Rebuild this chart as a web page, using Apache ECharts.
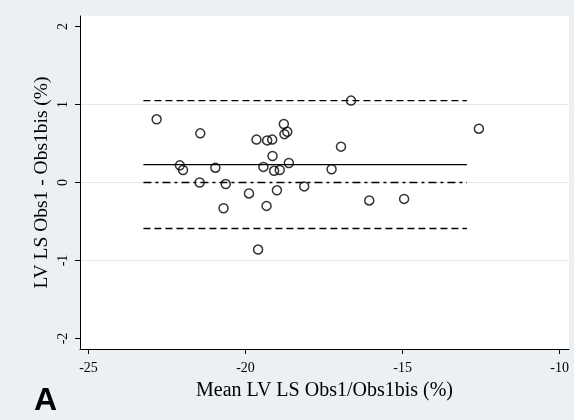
<!DOCTYPE html>
<html>
<head>
<meta charset="utf-8">
<script src="https://cdn.jsdelivr.net/npm/echarts@6/dist/echarts.min.js"></script>
<style>
html,body{margin:0;padding:0;background:#eaf0f3;}
#c{width:574px;height:420px;}
</style>
</head>
<body>
<div id="c"></div>
<script>
// Bland-Altman data: mean of Obs1/Obs1bis (x) and difference (y)
const meanValues = [-22.83,-22.09,-21.99,-21.44,-21.46,-20.96,-20.70,-20.63,-19.89,-19.65,
  -19.60,-19.43,-19.33,-19.31,-19.15,-19.14,-19.09,-19.00,-18.91,-18.78,
  -18.76,-18.67,-18.62,-18.13,-17.26,-16.96,-16.64,-16.06,-14.95,-12.57];
const diffValues = [0.81,0.22,0.16,0.63,0.00,0.19,-0.33,-0.02,-0.14,0.55,
  -0.86,0.20,-0.30,0.54,0.55,0.34,0.15,-0.10,0.16,0.75,
  0.62,0.65,0.25,-0.05,0.17,0.46,1.05,-0.23,-0.21,0.69];
const upperLimit = 1.05;
const meanDiff = 0.23;
const lowerLimit = -0.59;
const zeroLine = 0;
const limitXRange = [-23.25, -12.95];
const xTicks = [-25, -20, -15, -10];
const yTicks = [-2, -1, 0, 1, 2];
const yGrid = [-1, 0, 1];
const xTitle = 'Mean LV LS Obs1/Obs1bis (%)';
const yTitle = 'LV LS Obs1 - Obs1bis (%)';
const panelLabel = 'A';

const points = meanValues.map((x, i) => [x, diffValues[i]]);
const hline = v => [[limitXRange[0], v], [limitXRange[1], v]];

const chart = echarts.init(document.getElementById('c'));
const serif = 'Liberation Serif';
chart.setOption({
  backgroundColor: '#eaf0f3',
  animation: false,
  graphic: [{
    type: 'text', left: 34, top: 385,
    style: {text: panelLabel, font: 'bold 32px "Liberation Sans"', fill: '#000'}
  }],
  grid: {left: 80, right: 5, top: 16, bottom: 71, show: true, backgroundColor: '#fff', borderWidth: 0},
  xAxis: {
    type: 'value', min: -25.27, max: -9.70,
    axisLine: {show: true, onZero: false, lineStyle: {color: '#000', width: 1}},
    axisTick: {show: true, length: 5, customValues: xTicks, lineStyle: {color: '#000'}},
    axisLabel: {customValues: xTicks, color: '#000', fontFamily: serif, fontSize: 14, margin: 12},
    splitLine: {show: false},
    name: xTitle, nameLocation: 'middle', nameGap: 32, nameMoveOverlap: false,
    nameTextStyle: {color: '#000', fontFamily: serif, fontSize: 20}
  },
  yAxis: {
    type: 'value', min: -2.135, max: 2.135,
    axisLine: {show: true, onZero: false, lineStyle: {color: '#000', width: 1}},
    axisTick: {show: true, length: 5, customValues: yTicks, lineStyle: {color: '#000'}},
    axisLabel: {customValues: yTicks, rotate: 90, color: '#000', fontFamily: serif, fontSize: 14, margin: 10},
    splitLine: {show: false},
    name: yTitle, nameLocation: 'middle', nameGap: 28, nameRotate: 90, nameMoveOverlap: false,
    nameTextStyle: {color: '#000', fontFamily: serif, fontSize: 19.5}
  },
  series: [
    {
      type: 'line', data: [], silent: true, z: 0, zlevel: 0,
      markLine: {
        silent: true, symbol: 'none', label: {show: false}, z: 0,
        lineStyle: {color: '#e4e8ea', width: 1, type: 'solid'},
        data: yGrid.map(v => ({yAxis: v}))
      }
    },
    {type: 'line', data: hline(upperLimit), symbol: 'none', silent: true, z: 3,
     lineStyle: {color: '#000', width: 1.3, type: [7, 4]}},
    {type: 'line', data: hline(meanDiff), symbol: 'none', silent: true, z: 3,
     lineStyle: {color: '#000', width: 1.3, type: 'solid'}},
    {type: 'line', data: hline(zeroLine), symbol: 'none', silent: true, z: 3,
     lineStyle: {color: '#000', width: 1.3, type: [8, 4, 3, 4]}},
    {type: 'line', data: hline(lowerLimit), symbol: 'none', silent: true, z: 3,
     lineStyle: {color: '#000', width: 1.3, type: [7, 4]}},
    {type: 'scatter', data: points, symbol: 'circle', symbolSize: 9, z: 4,
     itemStyle: {color: 'rgba(255,255,255,0)', borderColor: '#000', borderWidth: 1.5}}
  ]
});
</script>
</body>
</html>
